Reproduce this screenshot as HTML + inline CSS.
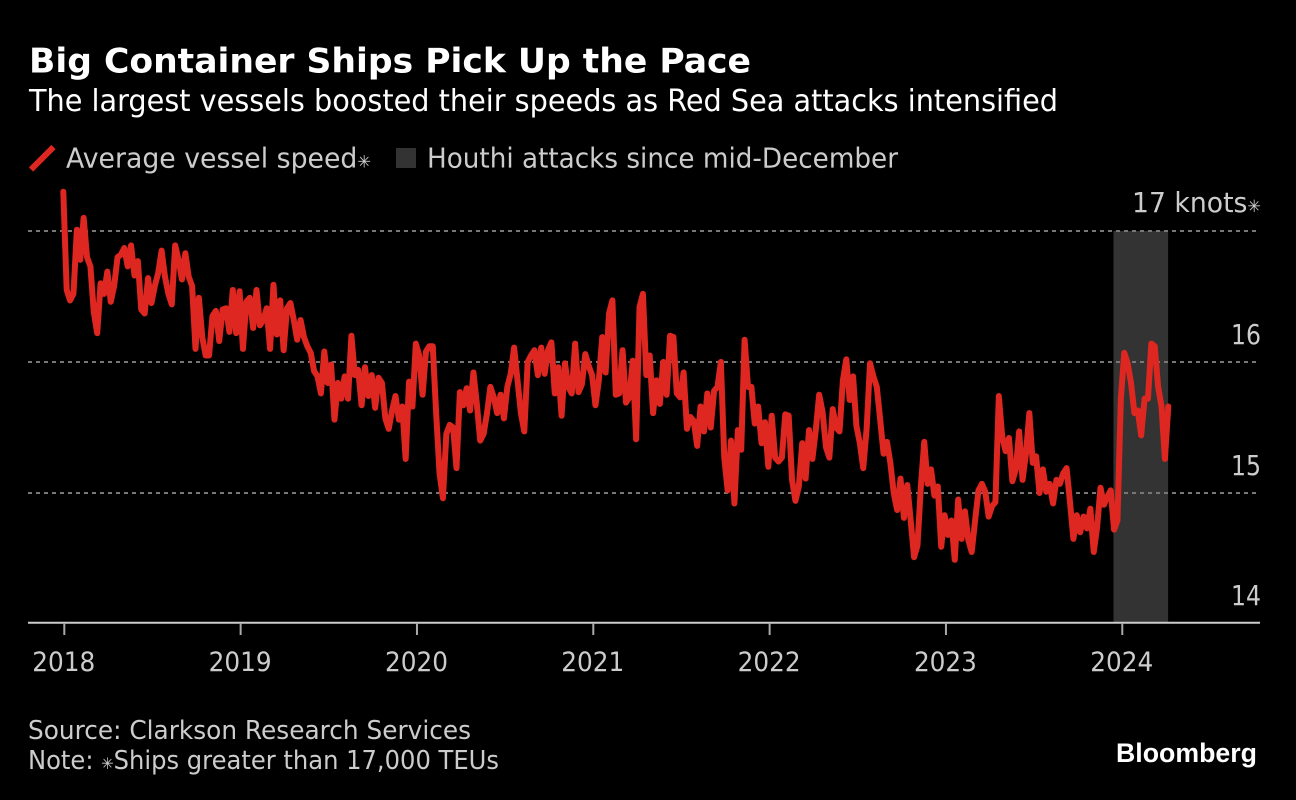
<!DOCTYPE html>
<html lang="en">
<head>
<meta charset="utf-8">
<title>Big Container Ships Pick Up the Pace</title>
<style>
html,body{margin:0;padding:0;background:#000;}
svg{display:block;}
text{font-family:"DejaVu Sans","Liberation Sans",sans-serif;}
</style>
</head>
<body>
<svg id="chart" xmlns="http://www.w3.org/2000/svg" width="1296" height="800" viewBox="0 0 1296 800">
  <rect width="1296" height="800" fill="#000"/>
  <text x="29" y="72.5" font-size="33.5" font-weight="700" fill="#fff" textLength="722" lengthAdjust="spacingAndGlyphs">Big Container Ships Pick Up the Pace</text>
  <text x="29" y="111" font-size="30" fill="#fff" textLength="1029" lengthAdjust="spacingAndGlyphs">The largest vessels boosted their speeds as Red Sea attacks intensified</text>
  <g>
    <line x1="31" y1="169.5" x2="53.5" y2="147" stroke="#dd2720" stroke-width="6"/>
    <text x="66" y="167.5" font-size="28" fill="#cccccc" textLength="305" lengthAdjust="spacingAndGlyphs">Average vessel speed<tspan font-size="17">✳</tspan></text>
    <rect x="396" y="148" width="20" height="20" fill="#333"/>
    <text x="427" y="167.5" font-size="28" fill="#cccccc" textLength="471" lengthAdjust="spacingAndGlyphs">Houthi attacks since mid-December</text>
  </g>
  <g id="plot"></g>
  <text x="28" y="739" font-size="26" fill="#cccccc" textLength="443" lengthAdjust="spacingAndGlyphs">Source: Clarkson Research Services</text>
  <text x="28" y="769" font-size="26" fill="#cccccc" textLength="471" lengthAdjust="spacingAndGlyphs">Note: <tspan font-size="16">✳</tspan>Ships greater than 17,000 TEUs</text>
  <text x="1116" y="762" font-size="26.5" font-weight="700" fill="#fff" style="font-family:'Liberation Sans',sans-serif" textLength="141" lengthAdjust="spacingAndGlyphs">Bloomberg</text>
</svg>
<script>
// Weekly average vessel speed in knots, starting January 2018
const speedValues = [
17.30,16.55,16.47,16.52,17.01,16.78,17.10,16.80,16.73,16.38,
16.22,16.60,16.52,16.69,16.46,16.58,16.80,16.82,16.87,16.73,
16.89,16.66,16.77,16.40,16.37,16.64,16.45,16.58,16.68,16.85,
16.65,16.52,16.44,16.89,16.78,16.63,16.83,16.65,16.58,16.10,
16.49,16.19,16.05,16.05,16.35,16.39,16.16,16.40,16.41,16.23,
16.55,16.22,16.54,16.10,16.46,16.49,16.26,16.55,16.28,16.32,
16.41,16.10,16.59,16.21,16.47,16.09,16.41,16.45,16.32,16.17,
16.32,16.19,16.12,16.07,15.93,15.89,15.76,16.08,15.84,15.98,
15.56,15.84,15.72,15.89,15.72,16.20,15.90,15.94,15.67,15.96,
15.74,15.90,15.65,15.88,15.84,15.57,15.49,15.63,15.74,15.56,
15.66,15.26,15.85,15.66,16.14,16.05,15.75,16.08,16.12,16.12,
15.61,15.15,14.96,15.45,15.52,15.50,15.19,15.77,15.67,15.80,
15.63,15.92,15.68,15.40,15.45,15.61,15.81,15.73,15.61,15.75,
15.57,15.81,15.91,16.11,15.86,15.61,15.47,16.00,16.05,16.09,
15.90,16.11,15.91,16.09,16.15,15.76,15.96,15.59,15.99,15.81,
15.76,16.14,15.77,15.83,16.06,15.97,15.90,15.67,15.86,16.19,
15.92,16.37,16.47,15.75,15.76,16.09,15.69,15.73,16.01,15.41,
16.42,16.52,15.90,16.05,15.61,15.86,15.68,16.00,15.75,16.20,
16.19,15.76,15.73,15.92,15.49,15.58,15.55,15.36,15.66,15.47,
15.76,15.50,15.78,15.81,16.00,15.27,15.02,15.40,14.92,15.48,
15.33,16.17,15.81,15.81,15.53,15.66,15.38,15.54,15.20,15.59,
15.27,15.24,15.27,15.60,15.59,15.10,14.94,15.05,15.38,15.11,
15.48,15.26,15.48,15.75,15.62,15.35,15.27,15.64,15.50,15.47,
15.86,16.02,15.71,15.89,15.51,15.38,15.19,15.49,15.99,15.89,
15.81,15.56,15.30,15.39,15.23,15.00,14.87,15.11,14.81,15.06,
14.79,14.51,14.60,15.05,15.39,15.07,15.18,14.98,15.05,14.59,
14.83,14.68,14.79,14.49,14.95,14.65,14.86,14.64,14.55,14.79,
15.02,15.07,15.01,14.82,14.90,14.93,15.74,15.43,15.32,15.42,
15.09,15.18,15.47,15.10,15.30,15.61,15.23,15.28,15.00,15.18,
15.01,15.07,14.92,15.10,15.07,15.15,15.19,14.93,14.65,14.83,
14.70,14.82,14.73,14.88,14.55,14.74,15.04,14.91,14.97,15.02,
14.72,14.79,15.72,16.07,15.99,15.84,15.61,15.63,15.44,15.72,
15.72,16.14,16.12,15.81,15.66,15.26,15.66
];
const yearTicks = [2018,2019,2020,2021,2022,2023,2024];
const gridValues = [17,16,15];
const yTickValues = [17,16,15,14];
const yTickLabels = ["17 knots","16","15","14"];
const attackPeriod = [2023.95,2024.26];

const SVGNS = "http://www.w3.org/2000/svg";
const plot = document.getElementById("plot");
function xYear(y){ return 64.3 + (y - 2018) * 176.33; }
function xWeek(i){ return 63.3 + i * (1168.3 - 63.3) / (speedValues.length - 1); }
function yVal(v){ return 231 + (17 - v) * 131; }
function make(tag, attrs, text){
  const el = document.createElementNS(SVGNS, tag);
  for (const k in attrs) el.setAttribute(k, attrs[k]);
  if (text !== undefined) el.textContent = text;
  plot.appendChild(el);
  return el;
}

const shade = make("rect", {
  x: xYear(attackPeriod[0]), y: yVal(17),
  width: xYear(attackPeriod[1]) - xYear(attackPeriod[0]),
  height: 622 - yVal(17), fill: "#333"
});



gridValues.forEach(function(v){
  const g = make("line", {
    x1: 28, x2: 1258, y1: yVal(v), y2: yVal(v),
    stroke: "#777", "stroke-width": 2, "stroke-dasharray": "4 4"
  });
  
  
});

const axis = make("line", { x1: 28, x2: 1260, y1: 622.7, y2: 622.7, stroke: "#ccc", "stroke-width": 2 });



yearTicks.forEach(function(y){
  const t = make("line", { x1: xYear(y), x2: xYear(y), y1: 623, y2: 635, stroke: "#aaa", "stroke-width": 2 });
  
  
  const l = make("text", { x: xYear(y) - 0.5, y: 671, "font-size": 27, fill: "#cccccc", "text-anchor": "middle", textLength: 63, lengthAdjust: "spacingAndGlyphs" }, String(y));
  
  
});

yTickValues.forEach(function(v, i){
  const baseline = v === 14 ? 605 : yVal(v) - 18;
  const width = v === 17 ? 129 : 30;
  const l = make("text", { x: 1261, y: baseline - (v === 17 ? 1 : 0), "font-size": 28, fill: "#cccccc", "text-anchor": "end", textLength: width, lengthAdjust: "spacingAndGlyphs" }, yTickLabels[i]);
  
  
  if (v === 17) {
    const star = document.createElementNS(SVGNS, "tspan");
    star.setAttribute("font-size", "17");
    star.textContent = "✳";
    l.appendChild(star);
  }
});

const d = speedValues.map(function(v, i){
  return (i ? "L" : "M") + xWeek(i).toFixed(2) + " " + yVal(v).toFixed(2);
}).join("");
const line = make("path", {
  d: d, fill: "none", stroke: "#dd2720", "stroke-width": 6,
  "stroke-linejoin": "round", "stroke-linecap": "round"
});


</script>
</body>
</html>
